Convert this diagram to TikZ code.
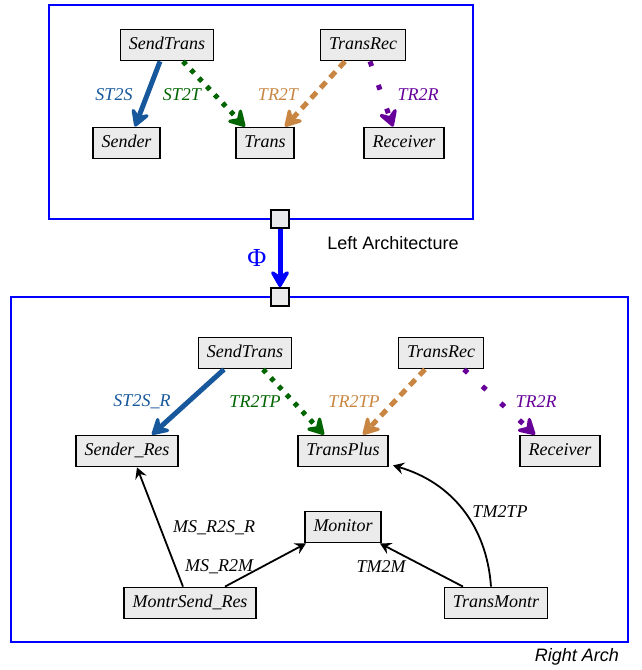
\documentclass[tikz,border=0pt]{standalone}
\usepackage{fontspec}
\setmainfont{Liberation Serif}
\setsansfont{Liberation Sans}
\usetikzlibrary{arrows.meta}
\definecolor{archblue}{RGB}{0,0,255}
\definecolor{boxgray}{RGB}{235,235,235}
\definecolor{cblue}{RGB}{22,88,155}
\definecolor{cgreen}{RGB}{0,100,0}
\definecolor{ctan}{RGB}{200,134,66}
\definecolor{cpurple}{RGB}{102,0,153}
\begin{document}
\begin{tikzpicture}[x=1pt,y=-1pt,
  comp/.style={draw=black, line width=1.8pt, fill=boxgray,
    font=\fontsize{18}{21}\selectfont\itshape, inner xsep=8.5pt, inner ysep=0pt,
    minimum height=31pt, text height=13pt, text depth=4pt},
  port/.style={draw=black, line width=1.6pt, fill=boxgray, minimum size=18pt, inner sep=0pt},
  arch/.style={draw=archblue, line width=1.8pt},
  lab/.style={font=\fontsize{18}{21}\selectfont\itshape, inner sep=0pt},
  caption/.style={font=\fontsize{18}{21}\selectfont\sffamily, inner sep=0pt},
  bigtip/.style={-{Stealth[length=21pt,width=24pt,inset=8pt,round]}},
  conn/.style={line width=5pt, line cap=butt, bigtip},
  solidlink/.style={conn, draw=cblue},
  dotlink/.style={conn, draw=cgreen, dash pattern=on 4.5pt off 7pt},
  dashlink/.style={conn, draw=ctan, dash pattern=on 8pt off 6pt},
  sparselink/.style={conn, draw=cpurple, dash pattern=on 5pt off 20pt},
  monlink/.style={draw=black, line width=1.8pt, -{Stealth[length=11pt,width=12pt,inset=4pt]}}
]
\useasboundingbox (0,0) rectangle (641,670);

% architecture frames
\draw[arch] (49,5) rectangle (473,219);
\draw[arch] (11,297) rectangle (628,642);

% upper architecture
\node[comp] (st)  at (167,45)  {SendTrans};
\node[comp] (tr)  at (363,45)  {TransRec};
\node[comp] (snd) at (126.5,143) {Sender};
\node[comp] (tra) at (265,143) {Trans};
\node[comp] (rcv) at (404,143) {Receiver};

\draw[solidlink]  ([xshift=-7pt]st.south) -- ([xshift=8.5pt]snd.north);
\draw[dotlink]    ([xshift=16pt]st.south) -- ([xshift=-20pt]tra.north);
\draw[dashlink]   ([xshift=-18pt]tr.south) -- ([xshift=20pt]tra.north);
\draw[sparselink] ([xshift=7pt]tr.south) -- ([xshift=-11pt]rcv.north);

\node[lab, text=cblue]   (l1) at (114,95) {ST2S};
\node[lab, text=cgreen]  (l2) at (182,95) {ST2T};
\node[lab, text=ctan]    (l3) at (278,95) {TR2T};
\node[lab, text=cpurple] (l4) at (418,95) {TR2R};

% mapping between the two architectures
\node[port] (pu) at (280,219) {};
\node[port] (pl) at (280,297) {};
\draw[draw=archblue, line width=5pt, bigtip] (pu.south) -- (pl.north);
\node[text=archblue, font=\fontsize{26}{30}\selectfont, inner sep=0pt] (phi) at (257,258) {Φ};
\node[caption] (lcap) at (393,243) {Left Architecture};

% lower architecture
\node[comp] (st2)  at (245,353) {SendTrans};
\node[comp] (tr2)  at (441,353) {TransRec};
\node[comp] (sres) at (127,451) {Sender\_Res};
\node[comp] (tp)   at (343,451) {TransPlus};
\node[comp] (rcv2) at (560,451) {Receiver};
\node[comp] (mon)  at (343,527) {Monitor};
\node[comp] (msr)  at (190,603) {MontrSend\_Res};
\node[comp] (tm)   at (496,603) {TransMontr};

\draw[solidlink]  ([xshift=-21pt]st2.south) -- ([xshift=25pt]sres.north);
\draw[dotlink]    ([xshift=18pt]st2.south) -- ([xshift=-19pt]tp.north);
\draw[dashlink]   ([xshift=-16pt]tr2.south) -- ([xshift=20pt]tp.north);
\draw[sparselink] ([xshift=23pt]tr2.south) -- ([xshift=-25pt]rcv2.north);

\node[lab, text=cblue]   (l5) at (142,402) {ST2S\_R};
\node[lab, text=cgreen]  (l6) at (255,402) {TR2TP};
\node[lab, text=ctan]    (l7) at (354,402) {TR2TP};
\node[lab, text=cpurple] (l8) at (536,402) {TR2R};

\draw[monlink] ([xshift=-7pt]msr.north) -- ([xshift=10pt]sres.south);
\draw[monlink] ([xshift=35pt]msr.north) -- ([xshift=-37pt]mon.south);
\draw[monlink] ([xshift=-33pt]tm.north) -- ([xshift=37pt]mon.south);
\draw[monlink] ([xshift=-5pt]tm.north) to[bend right=35] ([xshift=4pt,yshift=2pt]tp.south east);

\node[lab] (l9)  at (214,528) {MS\_R2S\_R};
\node[lab] (l10) at (219,567) {MS\_R2M};
\node[lab] (l11) at (381,567) {TM2M};
\node[lab] (l12) at (500,512) {TM2TP};

\node[caption, font=\fontsize{18}{21}\selectfont\sffamily\itshape, anchor=east] (rcap) at (619,657) {Right Arch};
\end{tikzpicture}
\end{document}
